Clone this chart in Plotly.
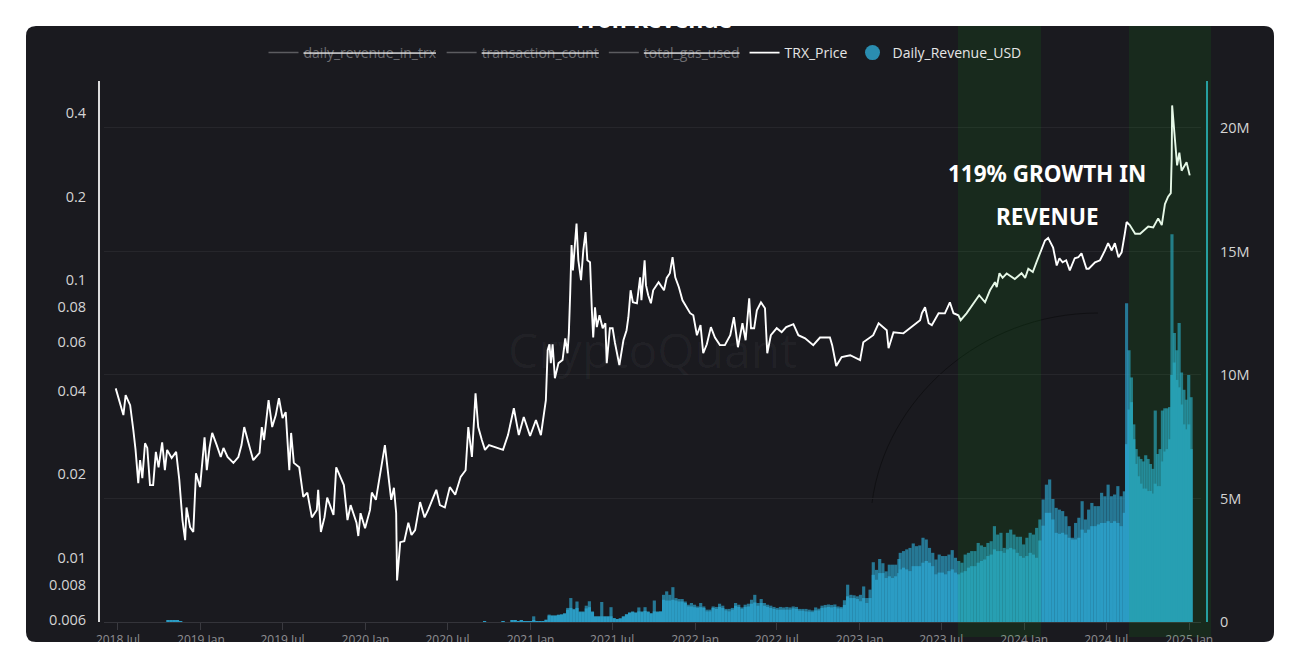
import pandas as pd
import plotly.graph_objects as go

# the page keeps its 8px body margin, so the figure is that much smaller and all
# numbers below stay in page pixels
OFF = 8
W, H = 1296 - OFF, 662 - OFF
PLOT_L, PLOT_R, PLOT_T, PLOT_B = 99, 1207, 81, 622
FONT = "Open Sans"
BG = "#1a1a1f"
BAR = "#2b9cc4"

day0 = pd.Timestamp("2018-07-01")

# TRX price, days after 2018-07-01
price_day = [-5, 4, 12, 17, 27, 34, 39, 45, 49, 54, 60, 65, 71, 78, 84, 90, 98, 104, 109, 119,
             129, 136, 143, 149, 152, 160, 167, 173, 182, 192, 197, 203, 209, 219, 228, 234, 243, 256, 267, 274,
             280, 289, 300, 314, 319, 324, 334, 342, 350, 357, 365, 372, 380, 384, 390, 402, 411, 420, 430, 441,
             444, 450, 458, 464, 478, 484, 494, 501, 509, 516, 529, 533, 538, 548, 559, 563, 572, 579, 585, 592,
             600, 606, 612, 617, 619, 626, 635, 644, 651, 659, 670, 680, 688, 700, 706, 714, 725, 736, 748, 760,
             771, 777, 785, 793, 799, 807, 814, 823, 836, 854, 865, 878, 889, 900, 914, 927, 938, 947, 949, 953,
             957, 960, 964, 969, 977, 986, 992, 997, 1000, 1003, 1006, 1009, 1017, 1021, 1027, 1032, 1037, 1041, 1047, 1051,
             1054, 1058, 1062, 1068, 1075, 1081, 1084, 1091, 1097, 1102, 1112, 1121, 1128, 1132, 1137, 1142, 1151, 1158, 1161, 1168,
             1171, 1176, 1182, 1187, 1199, 1211, 1217, 1224, 1230, 1236, 1244, 1252, 1259, 1269, 1276, 1284, 1292, 1298, 1306, 1315,
             1324, 1335, 1346, 1358, 1366, 1375, 1385, 1392, 1400, 1404, 1411, 1417, 1426, 1435, 1440, 1448, 1461, 1472, 1482, 1498,
             1509, 1524, 1542, 1557, 1579, 1584, 1593, 1605, 1624, 1646, 1653, 1675, 1687, 1705, 1709, 1720, 1742, 1764, 1779, 1783,
             1790, 1798, 1805, 1820, 1834, 1845, 1853, 1864, 1869, 1882, 1897, 1910, 1923, 1934, 1945, 1949, 1955, 1962, 1971, 1989,
             2004, 2012, 2019, 2029, 2037, 2048, 2056, 2063, 2074, 2082, 2088, 2095, 2103, 2111, 2122, 2130, 2137, 2148, 2153, 2167,
             2178, 2189, 2196, 2204, 2211, 2219, 2226, 2233, 2237, 2244, 2256, 2267, 2285, 2296, 2307, 2315, 2322, 2329, 2335, 2337,
             2338, 2344, 2349, 2354, 2359, 2370, 2377]
price_val = [.0408, .0364, .0327, .0386, .0355, .0289, .0245, .0186, .0225, .0194, .0259, .0249, .0183, .0183, .0241, .0212, .0261, .0207, .0245, .0229,
             .0241, .0191, .0137, .0116, .0152, .0129, .0124, .0202, .018, .0272, .0207, .0249, .0282, .0255, .0231, .0249, .0231, .022, .0231, .0255,
             .0296, .0261, .0225, .0239, .0296, .0266, .037, .0296, .0327, .0376, .0319, .0335, .0207, .0282, .022, .0212, .0166, .0172, .014, .0149,
             .0176, .0124, .014, .0165, .0143, .0212, .0194, .0183, .0137, .0155, .0134, .012, .0145, .0128, .0149, .0172, .0162, .0188, .022, .0255,
             .0196, .0162, .0179, .0145, .0083, .0114, .0115, .0134, .0121, .0126, .0159, .014, .0149, .0166, .0176, .0155, .0152, .018, .0169, .0196,
             .0207, .0296, .0231, .0392, .0296, .0266, .0245, .0255, .0251, .0245, .0277, .0346, .0277, .0322, .0275, .0314, .0277, .0355, .037, .056,
             .0588, .0503, .0588, .0444, .0503, .0516, .0618, .0546, .0644, .0899, .134, .1085, .16, .118, .1, .128, .149, .118, .116, .078,
             .0622, .0799, .0678, .0748, .0672, .07, .0503, .0672, .0672, .0598, .0495, .0608, .0661, .0736, .092, .0833, .0826, .1025, .0847, .118,
             .096, .0883, .0826, .092, .0984, .092, .102, .106, .121, .1025, .0944, .0847, .0813, .0761, .0748, .0634, .0689, .0546, .0588, .0678,
             .0622, .0584, .0584, .0634, .0736, .0574, .07, .0608, .0861, .0672, .0672, .078, .0833, .0793, .0546, .0634, .0672, .065, .0678, .0695,
             .0634, .0618, .0584, .0622, .0622, .0584, .0491, .0529, .0537, .0516, .0598, .0634, .07, .0661, .0569, .065, .0644, .0689, .0718, .0761,
             .0799, .07, .0689, .0761, .076, .0833, .0761, .0748, .0718, .076, .0826, .0883, .0833, .092, .0984, .0944, .106, .102, .1057, .101,
             .106, .102, .11, .107, .116, .128, .139, .142, .131, .113, .12, .116, .118, .1085, .12, .121, .125, .11, .11, .116,
             .118, .128, .136, .128, .136, .121, .126, .147, .162, .158, .147, .147, .156, .155, .167, .158, .188, .2, .206, .274,
             .426, .324, .259, .288, .248, .266, .2385]

# daily revenue in USD (millions): day peaks and the lower daily floor under them
early_day = [111, 118, 125, 132, 139, 813, 854]
early_rev = [.05, .06, .06, .05, .04, .04, .04]

rev_high_a = [.05, .07, .03, .07, .03, .03, .03, .23, .03, .03, .03, .09, .30, .26, .26, .30, .31, .36, .57, .97,
              .53, .83, .43, .43, .66, .84, .43, .23, .23, .81, .23, .23, .60, .16, .12, .15, .23, .32, .39, .43,
              .39, .59, .43, .60, .43, .36, .87, .43, .43, 1.1, 1.24, 1.1, 1.41, .97, .93, .93, .83, .70, .77, .70,
              .63, .77, .63, .50, .50]
rev_low_a = [.05, .07, .03, .07, .03, .03, .03, .05, .03, .03, .03, .09, .26, .26, .26, .28, .30, .33, .50, .57,
             .50, .57, .40, .40, .55, .60, .40, .22, .22, .23, .22, .22, .23, .15, .12, .14, .22, .30, .37, .40,
             .37, .43, .40, .45, .40, .34, .43, .40, .42, .90, .87, .87, .90, .87, .83, .83, .77, .63, .63, .60,
             .57, .60, .57, .43, .43]
rev_high_b = [.63, .61, .74, .66, .53, .53, .57, .77, .70, .59, .70, .74, .90, 1.10, .77, .93, .77, .70, .66, .61,
              .57, .61, .59, .61, .59, .63, .61, .53, .53, .53, .50, .47, .59, .54, .66, .69, .71, .69, .71, .63,
              .61, .88, 1.51, 1.10, 1.08, 1.04, 1.10, 1.44, .97, 1.31, 2.42, 2.11, 2.55, 2.38, 2.05, 2.32, 2.32, 2.32, 2.55]
rev_low_b = [.57, .53, .61, .57, .47, .43, .50, .66, .61, .53, .61, .63, .74, .79, .66, .77, .66, .61, .57, .53,
             .50, .50, .50, .50, .50, .55, .53, .46, .46, .43, .42, .40, .47, .47, .57, .59, .61, .59, .61, .55,
             .55, .69, 1.04, .97, .97, .93, .84, .97, .77, .97, 1.91, 1.71, 1.98, 1.98, 1.78, 1.85, 1.78, 1.85, 1.98]
rev_high_c = [2.80, 2.87, 2.94, 3.0, 3.18, 3.07, 3.10, 3.41, 3.34, 3.0, 2.8, 2.53, 2.73, 2.67, 2.67, 2.73, 2.91, 2.6, 2.47, 2.4,
              2.73, 2.8, 2.87, 2.87, 3.2, 3.1, 3.04, 3.2, 3.27, 3.88, 3.54, 3.61, 3.0, 3.61, 3.74, 3.54, 3.45, 3.45, 3.14, 3.41,
              3.61, 3.54, 3.81, 4.15, 4.96, 5.56, 5.77, 4.98, 4.62, 4.55, 4.49, 4.28, 3.88, 3.41, 4.01, 4.22, 4.89, 4.15, 4.55, 4.82,
              4.69, 4.69, 5.23, 5.09, 5.56, 5.09, 5.16, 5.5, 5.09, 5.29]
rev_low_c = [2.13, 2.2, 2.13, 2.06, 2.26, 2.26, 2.26, 2.4, 2.47, 2.4, 2.26, 1.93, 2.0, 2.0, 1.93, 2.06, 2.13, 2.0, 1.93, 2.0,
             2.06, 2.2, 2.26, 2.26, 2.4, 2.47, 2.53, 2.67, 2.73, 2.94, 2.87, 2.87, 2.8, 2.94, 3.0, 2.94, 2.8, 2.67, 2.6, 2.67,
             2.8, 2.73, 2.6, 3.3, 3.9, 4.42, 4.42, 4.15, 3.61, 3.57, 3.61, 3.54, 3.41, 3.34, 3.34, 3.41, 3.74, 3.61, 3.74, 3.88,
             3.88, 3.95, 4.01, 4.01, 4.08, 4.01, 4.08, 4.01, 3.88, 4.42]
rev_high_d = [12.9, 11.0, 9.9, 8.0, 7.0, 6.7, 6.6, 6.5, 6.75, 6.6, 6.4, 6.2, 8.56, 6.8, 7.0, 8.56, 8.65, 8.65, 8.7, 15.7,
              11.7, 11.0, 12.1, 10.1, 9.4, 9.0, 10.0, 9.1]
rev_low_d = [7.2, 8.6, 8.9, 7.4, 6.4, 5.9, 5.6, 5.4, 5.4, 5.3, 5.3, 5.2, 5.6, 5.5, 5.5, 6.5, 6.9, 7.0, 7.4, 10.0,
             10.5, 9.8, 9.5, 8.8, 8.0, 7.8, 8.0, 7.0]
# first and last day of each stretch above
rev_spans = [(874, 1313), (1320, 1732), (1735, 2232), (2237, 2380)]

price_ticks = [0.006, 0.008, 0.01, 0.02, 0.04, 0.06, 0.08, 0.1, 0.2, 0.4]
price_tick_text = ["0.006", "0.008", "0.01", "0.02", "0.04", "0.06", "0.08", "0.1", "0.2", "0.4"]
rev_ticks = [0, 5, 10, 15, 20]
rev_tick_text = ["0", "5M", "10M", "15M", "20M"]
hidden_names = ["daily_revenue_in_trx", "transaction_count", "total_gas_used"]


def px_x(x):
    return (x - PLOT_L) / (PLOT_R - PLOT_L)


def px_y(y):
    return (PLOT_B - y) / (PLOT_B - PLOT_T)


def dates_from(days):
    return day0 + pd.to_timedelta(days, unit="D")


rev_dates = [dates_from(early_day)]
for (a, b), vals in zip(rev_spans, [rev_high_a, rev_high_b, rev_high_c, rev_high_d]):
    rev_dates.append(pd.date_range(day0 + pd.Timedelta(days=a), day0 + pd.Timedelta(days=b), periods=len(vals)))
rev_x = rev_dates[0].append(rev_dates[1:])
rev_high = early_rev + rev_high_a + rev_high_b + rev_high_c + rev_high_d
rev_low = early_rev + rev_low_a + rev_low_b + rev_low_c + rev_low_d
bar_w = 7 * 86400000

fig = go.Figure()

fig.add_trace(go.Bar(x=rev_x, y=rev_high, width=bar_w, marker=dict(color=BAR, opacity=0.72, line_width=0),
                     showlegend=False, yaxis="y"))
fig.add_trace(go.Bar(x=rev_x, y=rev_low, width=bar_w, marker=dict(color=BAR, line_width=0),
                     showlegend=False, yaxis="y"))

# legend entries: switched off series are only listed
for name in hidden_names:
    fig.add_trace(go.Scatter(x=[None], y=[None], mode="lines", line=dict(color="#5c5c60", width=1.5),
                             name='<s><span style="color:#6e6e72">' + name + "</span></s>", yaxis="y2"))
fig.add_trace(go.Scatter(x=dates_from(price_day), y=price_val, mode="lines", name="TRX_Price",
                         line=dict(color="white", width=1.9), yaxis="y2"))
fig.add_trace(go.Scatter(x=[None], y=[None], mode="markers", name="Daily_Revenue_USD",
                         marker=dict(color="#2a8db0", size=15, symbol="circle"), yaxis="y2"))

# white page round the rounded card
r = 10
x0, x1 = px_x(26), px_x(1274)
y0, y1 = px_y(642), px_y(26)
rx, ry = r / (PLOT_R - PLOT_L), r / (PLOT_B - PLOT_T)
mask = (f"M{px_x(0)},{px_y(0)} L{px_x(1310)},{px_y(0)} L{px_x(1310)},{px_y(670)} L{px_x(0)},{px_y(670)} Z "
        f"M{x0 + rx},{y1} L{x1 - rx},{y1} Q{x1},{y1} {x1},{y1 - ry} L{x1},{y0 + ry} Q{x1},{y0} {x1 - rx},{y0} "
        f"L{x0 + rx},{y0} Q{x0},{y0} {x0},{y0 + ry} L{x0},{y1 - ry} Q{x0},{y1} {x0 + rx},{y1} Z")
arc = (f"M{px_x(872)},{px_y(503)} C{px_x(885)},{px_y(400)} {px_x(980)},{px_y(313)} {px_x(1098)},{px_y(313)}")

shapes = [
    dict(type="path", xref="paper", yref="paper", path=arc, line=dict(color="#101013", width=1), layer="below"),
    dict(type="rect", xref="paper", yref="paper", x0=px_x(958), x1=px_x(1041), y0=px_y(637), y1=px_y(26),
         fillcolor="rgba(6,186,21,0.1)", line_width=0, layer="above"),
    dict(type="rect", xref="paper", yref="paper", x0=px_x(1129), x1=px_x(1211), y0=px_y(637), y1=px_y(26),
         fillcolor="rgba(6,186,21,0.1)", line_width=0, layer="above"),
    dict(type="path", xref="paper", yref="paper", path=mask, fillcolor="white", line_width=0, layer="above"),
]

annotations = [
    dict(text="CryptoQuant", xref="paper", yref="paper", x=px_x(652), y=px_y(349), showarrow=False,
         xanchor="center", yanchor="middle", font=dict(family=FONT, size=48, color="rgba(255,255,255,0.035)")),
    dict(text="<b>119% GROWTH IN</b>", xref="paper", yref="paper", x=px_x(1047), y=px_y(174), showarrow=False,
         xanchor="center", yanchor="middle", font=dict(family="Noto Sans", size=22.5, color="white")),
    dict(text="<b>REVENUE</b>", xref="paper", yref="paper", x=px_x(1047), y=px_y(216), showarrow=False,
         xanchor="center", yanchor="middle", font=dict(family="Noto Sans", size=22.5, color="white")),
]

fig.update_layout(
    width=W, height=H,
    autosize=False,
    paper_bgcolor=BG,
    plot_bgcolor=BG,
    barmode="overlay",
    margin=dict(l=PLOT_L - OFF, r=W - (PLOT_R - OFF), t=PLOT_T - OFF, b=H - (PLOT_B - OFF), autoexpand=False),
    title=dict(text="<b>Tron Revenue</b>", x=(653 - OFF) / W, xanchor="center", y=1 - (20 - OFF) / H, yanchor="middle",
               font=dict(family=FONT, size=23, color="white")),
    legend=dict(orientation="h", x=px_x(645), xanchor="center", y=px_y(53), yanchor="middle",
                bgcolor="rgba(0,0,0,0)", font=dict(family=FONT, size=14, color="#e6e6e6"), itemwidth=30,
                itemclick=False, itemdoubleclick=False),
    shapes=shapes,
    annotations=annotations,
    xaxis=dict(
        type="date",
        domain=[px_x(104), px_x(1201)],
        range=["2018-05-31", "2025-01-27"],
        tick0="2018-07-01", dtick="M6", tickformat="%Y %b",
        ticks="outside", ticklen=7, tickcolor="#3a3a40", tickwidth=1,
        tickfont=dict(family=FONT, size=12, color="#8e8e92"),
        showgrid=False, zeroline=False,
        showline=True, linecolor="#34343a", linewidth=1,
    ),
    yaxis=dict(
        side="right", anchor="free", position=1,
        range=[0, 21.9],
        tickvals=rev_ticks, ticktext=rev_tick_text,
        ticks="outside", ticklen=9, tickcolor="rgba(0,0,0,0)",
        tickfont=dict(family=FONT, size=14.5, color="#d4d4d4"),
        showgrid=True, gridcolor="#26262b", gridwidth=1, zeroline=False,
        showline=True, linecolor="#2a9cb0", linewidth=2,
    ),
    yaxis2=dict(
        type="log", overlaying="y", side="left", anchor="free", position=0,
        range=[-2.2304, -0.2827],
        tickvals=price_ticks, ticktext=price_tick_text,
        ticks="outside", ticklen=9, tickcolor="rgba(0,0,0,0)",
        tickfont=dict(family=FONT, size=14.5, color="#d4d4d4"),
        showgrid=False, zeroline=False,
        showline=True, linecolor="#dcdcdc", linewidth=2,
    ),
)

fig.write_html("out.html")
